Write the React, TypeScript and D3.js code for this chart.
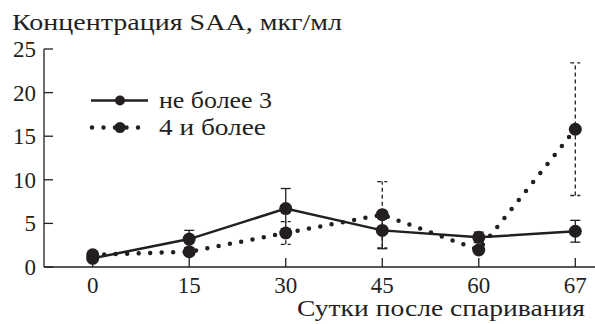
import React from 'react';
import * as d3 from 'd3';

const days = ['0', '15', '30', '45', '60', '67'];
const lowMean = [1.0, 3.2, 6.7, 4.2, 3.4, 4.1];
const lowErr = [0, 1.0, 2.3, 2.1, 0.6, 1.25];
const highMean = [1.4, 1.75, 3.9, 6.0, 1.95, 15.8];
const highErr = [0, 0, 1.3, 3.8, 0, 7.6];
const yTicks = [0, 5, 10, 15, 20, 25];
const legendLabels = ['не более 3', '4 и более'];
const legendWidths = [113, 107];

const c = '#231f20';
const txt = { fontFamily: "'Liberation Serif', 'Times New Roman', serif", fontSize: '23px', fill: c };

const x = d3.scalePoint<string>().domain(days).range([92.7, 575.3]);
const y = d3.scaleLinear().domain([0, 25]).range([267, 49]);
const line = d3.line<number>().x((_, i) => x(days[i])!).y(v => y(v));

const ErrBars = ({ means, errs, dashed }: { means: number[]; errs: number[]; dashed: boolean }) => (
    <g stroke={c} strokeWidth={1.3} strokeDasharray={dashed ? '4,3' : undefined}>
        {means.map((m, i) => {
            if (!errs[i]) return null;
            const cx = x(days[i])!;
            return (
                <g key={i}>
                    <line x1={cx} x2={cx} y1={y(m - errs[i])} y2={y(m + errs[i])} />
                    <line x1={cx - 5} x2={cx + 5} y1={y(m - errs[i])} y2={y(m - errs[i])} />
                    <line x1={cx - 5} x2={cx + 5} y1={y(m + errs[i])} y2={y(m + errs[i])} />
                </g>
            );
        })}
    </g>
);

const App = () => (
    <svg width={595} height={324} style={{ position: 'absolute', left: 0, top: 0, background: '#fff' }}>
        {/* axes */}
        <line x1={44} x2={595} y1={y(0)} y2={y(0)} stroke={c} strokeWidth={1.3} />
        <line x1={44} x2={44} y1={y(0)} y2={y(25)} stroke={c} strokeWidth={1.3} />
        {yTicks.map(t => (
            <g key={t}>
                <line x1={44} x2={53} y1={y(t)} y2={y(t)} stroke={c} strokeWidth={1.3} />
                <text x={36} y={y(t) + 8} textAnchor="end" {...txt}>{t}</text>
            </g>
        ))}
        {days.map(d => (
            <g key={d}>
                <line x1={x(d)} x2={x(d)} y1={y(0)} y2={y(0) - 9} stroke={c} strokeWidth={1.3} />
                <text x={x(d)} y={293} textAnchor="middle" {...txt}>{d}</text>
            </g>
        ))}
        <text x={12} y={30} textLength={330} lengthAdjust="spacingAndGlyphs" {...txt}>Концентрация SAA, мкг/мл</text>
        <text x={297} y={316} textLength={288} lengthAdjust="spacingAndGlyphs" {...txt}>Сутки после спаривания</text>

        <ErrBars means={highMean} errs={highErr} dashed />
        <ErrBars means={lowMean} errs={lowErr} dashed={false} />

        <path d={line(highMean)!} fill="none" stroke={c} strokeWidth={4.5} strokeLinecap="round" strokeDasharray="0,11.5" />
        <path d={line(lowMean)!} fill="none" stroke={c} strokeWidth={2.5} />
        {[highMean, lowMean].map((s, k) =>
            s.map((v, i) => <circle key={k + '-' + i} cx={x(days[i])} cy={y(v)} r={6.5} fill={c} />)
        )}

        {/* legend */}
        <line x1={91} x2={148} y1={100.5} y2={100.5} stroke={c} strokeWidth={2.5} />
        <circle cx={120} cy={100.5} r={5} fill={c} />
        <line x1={92} x2={149} y1={127.5} y2={127.5} stroke={c} strokeWidth={4.5} strokeLinecap="round" strokeDasharray="0,11.5" />
        <circle cx={120} cy={127.5} r={5.5} fill={c} />
        {legendLabels.map((l, i) => (
            <text key={l} x={159} y={107.5 + i * 27} textLength={legendWidths[i]} lengthAdjust="spacingAndGlyphs" {...txt}>{l}</text>
        ))}
    </svg>
);

export default App;
